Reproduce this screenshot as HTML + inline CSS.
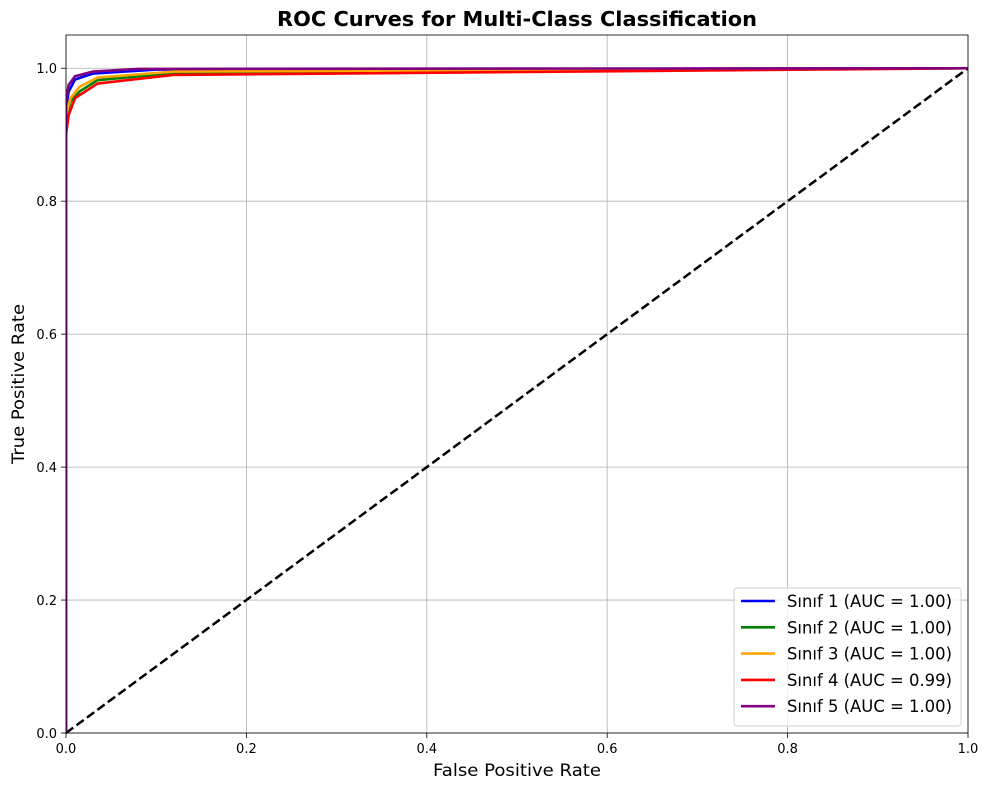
<!DOCTYPE html>
<html><head><meta charset="utf-8"><style>
body{margin:0;background:#fff;}
svg{display:block;font-family:"DejaVu Sans","Liberation Sans",sans-serif;}
</style></head><body>
<svg id="chart" width="989" height="790"></svg>
<script>
const classNames=["Sınıf 1","Sınıf 2","Sınıf 3","Sınıf 4","Sınıf 5"];
const aucValues=["1.00","1.00","1.00","0.99","1.00"];
const colors=["blue","green","orange","red","purple"];
const fpr1=[0,0,0.003,0.01,0.03,0.1,1];
const tpr1=[0,0.94,0.965,0.983,0.992,0.998,1];
const fpr2=[0,0,0.005,0.015,0.035,0.12,1];
const tpr2=[0,0.92,0.95,0.965,0.982,0.993,1];
const fpr3=[0,0,0.005,0.015,0.035,0.12,1];
const tpr3=[0,0.93,0.955,0.972,0.986,0.995,1];
const fpr4=[0,0,0.003,0.01,0.035,0.12,0.3,1];
const tpr4=[0,0.9,0.93,0.955,0.977,0.99,0.992,1];
const fpr5=[0,0,0.003,0.01,0.03,0.08,1];
const tpr5=[0,0.95,0.975,0.988,0.995,0.999,1];
const xTicks=[0,0.2,0.4,0.6,0.8,1.0];
const yTicks=[0,0.2,0.4,0.6,0.8,1.0];
const xTickLabels=["0.0","0.2","0.4","0.6","0.8","1.0"];
const yTickLabels=["0.0","0.2","0.4","0.6","0.8","1.0"];

const L=66,R=968,T=35,B=733;
const X=v=>L+(R-L)*v;
const Y=v=>B-(B-T)*v/1.05;
const svg=document.getElementById('chart');
const NS='http://www.w3.org/2000/svg';
function mk(tag,attrs,parent){const e=document.createElementNS(NS,tag);for(const k in attrs)e.setAttribute(k,attrs[k]);(parent||svg).appendChild(e);return e;}

const grid=mk('g',{});


xTicks.forEach((t,i)=>{
  const l=mk('line',{x1:X(t),x2:X(t),y1:T,y2:B,stroke:'#b0b0b0','stroke-width':0.8},grid);
  
  
  const tk=mk('line',{x1:X(t),x2:X(t),y1:B,y2:B+5,stroke:'#000','stroke-width':0.8});
  
  
  const tx=mk('text',{x:X(t),y:B+20,'text-anchor':'middle','font-size':13});
  tx.textContent=xTickLabels[i];
  
  
});
yTicks.forEach((t,i)=>{
  const l=mk('line',{x1:L,x2:R,y1:Y(t),y2:Y(t),stroke:'#b0b0b0','stroke-width':0.8},grid);
  
  
  const tk=mk('line',{x1:L-5,x2:L,y1:Y(t),y2:Y(t),stroke:'#000','stroke-width':0.8});
  
  
  const tx=mk('text',{x:L-9,y:Y(t)+5,'text-anchor':'end','font-size':13});
  tx.textContent=yTickLabels[i];
  
  
});

const clip=mk('clipPath',{id:'pc'});mk('rect',{x:L,y:T,width:R-L,height:B-T},clip);
const diag=mk('line',{x1:X(0),y1:Y(0),x2:X(1),y2:Y(1),stroke:'#000','stroke-width':2.5,'stroke-dasharray':'9,4'});



const fprs=[fpr1,fpr2,fpr3,fpr4,fpr5],tprs=[tpr1,tpr2,tpr3,tpr4,tpr5];
fprs.forEach((f,i)=>{
  const d=f.map((v,j)=>(j?'L':'M')+X(v).toFixed(2)+','+Y(tprs[i][j]).toFixed(2)).join('');
  const p=mk('path',{d:d,fill:'none',stroke:colors[i],'stroke-width':2.6,'clip-path':'url(#pc)','stroke-linejoin':'round'});
  
  
});

const frame=mk('rect',{x:L,y:T,width:R-L,height:B-T,fill:'none',stroke:'#000','stroke-width':0.8});



const title=mk('text',{x:(L+R)/2,y:26,'text-anchor':'middle','font-size':20,'font-weight':'bold',textLength:480,lengthAdjust:'spacingAndGlyphs'});
title.textContent='ROC Curves for Multi-Class Classification';


const xt=mk('text',{x:(L+R)/2,y:776,'text-anchor':'middle','font-size':17,textLength:168,lengthAdjust:'spacingAndGlyphs'});
xt.textContent='False Positive Rate';


const yt=mk('text',{x:24,y:(T+B)/2,'text-anchor':'middle','font-size':17,textLength:160,lengthAdjust:'spacingAndGlyphs',transform:'rotate(-90 24 '+((T+B)/2)+')'});
yt.textContent='True Positive Rate';



const lg=mk('g',{});


const lb=mk('rect',{x:734,y:588,width:227,height:138,rx:3,fill:'#fff','fill-opacity':0.8,stroke:'#d0d0d0','stroke-width':1},lg);


classNames.forEach((n,i)=>{
  const y=601+i*26.3;
  const e=mk('g',{},lg);
  
  
  mk('line',{x1:741,x2:775,y1:y,y2:y,stroke:colors[i],'stroke-width':2.6},e);
  const t=mk('text',{x:787,y:y+6,'font-size':16.5,textLength:165,lengthAdjust:'spacingAndGlyphs'},e);
  t.textContent=n+' (AUC = '+aucValues[i]+')';
});
</script>
</body></html>
